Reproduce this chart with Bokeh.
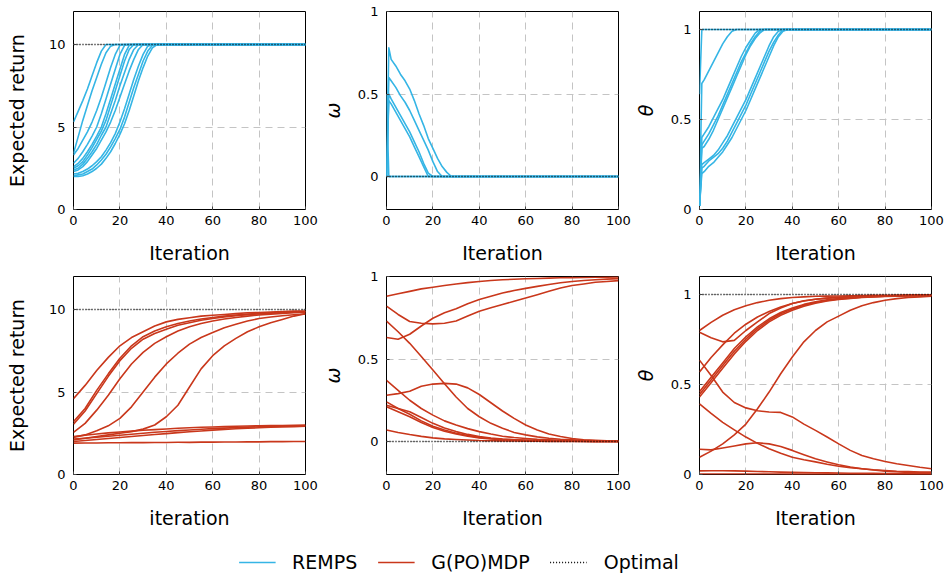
from bokeh.plotting import figure
from bokeh.layouts import column, row
from bokeh.models import Range1d, FixedTicker, Legend, LegendItem
from bokeh.embed import file_html
from bokeh.resources import INLINE

BLUE = "#35B5E5"
RED = "#C9371B"
FONT = "DejaVu Sans"

# ---------------- data ----------------
X_TICKS = [0, 20, 40, 60, 80, 100]
RET_TICKS = [0, 5, 10]
UNIT_TICKS = [0, 0.5, 1]
UNIT_LABELS = {0: "0", 0.5: "0.5", 1: "1"}

OPT_ITER = [0, 100]
OPT_RETURN = [10, 10]
OPT_OMEGA = [0, 0]
OPT_THETA = [1, 1]

# REMPS - expected return
REMPS_RET_ITER = [0, 2, 4, 6, 8, 10, 12, 14, 16, 18, 20, 22, 24, 26, 28, 30, 32, 34, 36, 100]
REMPS_RETURN = [
    [5.3, 5.95, 6.6, 7.3, 8.1, 8.9, 9.6, 10, 10, 10, 10, 10, 10, 10, 10, 10, 10, 10, 10, 10],
    [3.4, 4.4, 5.4, 6.3, 7.2, 8.0, 8.8, 9.5, 9.9, 10, 10, 10, 10, 10, 10, 10, 10, 10, 10, 10],
    [3.3, 3.7, 4.2, 4.7, 5.3, 6.0, 6.8, 7.7, 8.6, 9.4, 9.95, 10, 10, 10, 10, 10, 10, 10, 10, 10],
    [2.8, 3.1, 3.5, 3.95, 4.45, 5.0, 5.8, 6.7, 7.6, 8.5, 9.4, 9.95, 10, 10, 10, 10, 10, 10, 10, 10],
    [2.6, 2.8, 3.1, 3.5, 3.95, 4.45, 5.0, 5.8, 6.7, 7.6, 8.5, 9.4, 9.95, 10, 10, 10, 10, 10, 10, 10],
    [2.5, 2.65, 2.9, 3.3, 3.75, 4.25, 4.75, 5.4, 6.3, 7.2, 8.1, 9.0, 9.7, 10, 10, 10, 10, 10, 10, 10],
    [2.4, 2.5, 2.75, 3.1, 3.5, 3.95, 4.5, 5.0, 5.8, 6.6, 7.5, 8.3, 9.1, 9.7, 10, 10, 10, 10, 10, 10],
    [2.3, 2.4, 2.6, 2.9, 3.3, 3.7, 4.2, 4.7, 5.3, 6.0, 6.8, 7.6, 8.4, 9.1, 9.7, 10, 10, 10, 10, 10],
    [2.15, 2.2, 2.3, 2.45, 2.65, 2.9, 3.2, 3.6, 4.05, 4.6, 5.3, 6.1, 7.0, 7.9, 8.7, 9.4, 9.9, 10, 10, 10],
    [2.05, 2.1, 2.15, 2.3, 2.45, 2.7, 3.0, 3.35, 3.8, 4.3, 4.85, 5.6, 6.5, 7.4, 8.2, 9.0, 9.6, 9.95, 10, 10],
    [2.0, 2.0, 2.05, 2.15, 2.3, 2.5, 2.75, 3.1, 3.5, 4.0, 4.55, 5.2, 6.0, 6.9, 7.8, 8.6, 9.3, 9.8, 10, 10],
]

# REMPS - omega
REMPS_OMEGA_ITER = [0, 1, 2, 4, 6, 8, 10, 12, 14, 16, 18, 20, 22, 24, 26, 28, 100]
REMPS_OMEGA = [
    [0.0, 0.78, 0.71, 0.67, 0.62, 0.58, 0.53, 0.46, 0.38, 0.31, 0.23, 0.17, 0.11, 0.06, 0.025, 0.0, 0.0],
    [0.0, 0.60, 0.58, 0.54, 0.49, 0.45, 0.40, 0.34, 0.28, 0.22, 0.16, 0.09, 0.03, 0.0, 0.0, 0.0, 0.0],
    [0.0, 0.50, 0.47, 0.42, 0.37, 0.32, 0.27, 0.21, 0.15, 0.08, 0.02, 0.0, 0.0, 0.0, 0.0, 0.0, 0.0],
    [0.0, 0.46, 0.44, 0.39, 0.34, 0.29, 0.24, 0.18, 0.12, 0.06, 0.0, 0.0, 0.0, 0.0, 0.0, 0.0, 0.0],
    [0.5, 0.0, 0.0, 0.0, 0.0, 0.0, 0.0, 0.0, 0.0, 0.0, 0.0, 0.0, 0.0, 0.0, 0.0, 0.0, 0.0],
    [0.0, 0.0, 0.0, 0.0, 0.0, 0.0, 0.0, 0.0, 0.0, 0.0, 0.0, 0.0, 0.0, 0.0, 0.0, 0.0, 0.0],
]

# REMPS - theta
REMPS_THETA_ITER = [0, 1, 2, 4, 6, 8, 10, 12, 14, 16, 18, 20, 22, 24, 26, 28, 30, 32, 34, 36, 38, 100]
REMPS_THETA = [
    [0.64, 1.0, 1.0, 1.0, 1.0, 1.0, 1.0, 1.0, 1.0, 1.0, 1.0, 1.0, 1.0, 1.0, 1.0, 1.0, 1.0, 1.0, 1.0, 1.0, 1.0, 1.0],
    [0.02, 0.70, 0.72, 0.77, 0.82, 0.87, 0.92, 0.96, 0.99, 1.0, 1.0, 1.0, 1.0, 1.0, 1.0, 1.0, 1.0, 1.0, 1.0, 1.0, 1.0, 1.0],
    [0.02, 0.40, 0.42, 0.46, 0.51, 0.56, 0.61, 0.67, 0.73, 0.79, 0.85, 0.90, 0.94, 0.98, 1.0, 1.0, 1.0, 1.0, 1.0, 1.0, 1.0, 1.0],
    [0.02, 0.36, 0.38, 0.42, 0.47, 0.52, 0.58, 0.64, 0.70, 0.76, 0.82, 0.87, 0.92, 0.96, 0.99, 1.0, 1.0, 1.0, 1.0, 1.0, 1.0, 1.0],
    [0.02, 0.34, 0.35, 0.39, 0.44, 0.50, 0.56, 0.62, 0.68, 0.74, 0.80, 0.86, 0.91, 0.95, 0.98, 1.0, 1.0, 1.0, 1.0, 1.0, 1.0, 1.0],
    [0.02, 0.25, 0.26, 0.28, 0.30, 0.33, 0.37, 0.41, 0.46, 0.51, 0.56, 0.61, 0.67, 0.73, 0.79, 0.85, 0.91, 0.96, 0.99, 1.0, 1.0, 1.0],
    [0.02, 0.23, 0.24, 0.27, 0.29, 0.31, 0.34, 0.38, 0.43, 0.48, 0.53, 0.58, 0.64, 0.70, 0.76, 0.82, 0.88, 0.93, 0.97, 1.0, 1.0, 1.0],
    [0.02, 0.20, 0.21, 0.24, 0.26, 0.29, 0.32, 0.36, 0.40, 0.45, 0.50, 0.55, 0.61, 0.67, 0.73, 0.79, 0.85, 0.91, 0.96, 0.99, 1.0, 1.0],
]

# G(PO)MDP
GPOMDP_ITER = [0, 5, 10, 15, 20, 25, 30, 35, 40, 45, 50, 55, 60, 65, 70, 75, 80, 85, 90, 95, 100]
GPOMDP_RETURN = [
    [4.6, 5.4, 6.3, 7.1, 7.8, 8.3, 8.65, 9.0, 9.25, 9.4, 9.5, 9.6, 9.65, 9.7, 9.75, 9.8, 9.82, 9.85, 9.87, 9.9, 9.9],
    [3.2, 4.0, 5.1, 6.1, 7.05, 7.8, 8.35, 8.7, 8.95, 9.15, 9.3, 9.42, 9.52, 9.6, 9.66, 9.72, 9.76, 9.8, 9.83, 9.86, 9.88],
    [3.05, 3.85, 4.9, 5.95, 6.9, 7.65, 8.2, 8.55, 8.8, 9.05, 9.2, 9.35, 9.45, 9.55, 9.62, 9.68, 9.73, 9.77, 9.8, 9.83, 9.86],
    [2.55, 3.1, 3.9, 4.8, 5.8, 6.7, 7.4, 7.95, 8.35, 8.7, 8.95, 9.15, 9.3, 9.42, 9.52, 9.6, 9.67, 9.72, 9.76, 9.8, 9.83],
    [2.25, 2.4, 2.65, 2.95, 3.4, 4.1, 5.0, 5.9, 6.7, 7.35, 7.9, 8.3, 8.6, 8.9, 9.1, 9.3, 9.45, 9.55, 9.62, 9.68, 9.73],
    [2.1, 2.2, 2.3, 2.4, 2.5, 2.6, 2.75, 3.0, 3.5, 4.2, 5.3, 6.4, 7.2, 7.8, 8.25, 8.65, 8.95, 9.2, 9.4, 9.6, 9.75],
    [2.3, 2.38, 2.45, 2.52, 2.58, 2.63, 2.68, 2.72, 2.76, 2.8, 2.83, 2.86, 2.88, 2.9, 2.92, 2.94, 2.95, 2.96, 2.97, 2.98, 3.0],
    [2.15, 2.2, 2.26, 2.32, 2.38, 2.44, 2.5, 2.56, 2.61, 2.66, 2.7, 2.74, 2.78, 2.81, 2.84, 2.87, 2.89, 2.91, 2.93, 2.94, 2.95],
    [2.0, 2.06, 2.12, 2.18, 2.24, 2.3, 2.36, 2.42, 2.48, 2.54, 2.59, 2.64, 2.69, 2.73, 2.77, 2.8, 2.83, 2.86, 2.88, 2.9, 2.92],
    [1.9, 1.91, 1.91, 1.92, 1.92, 1.93, 1.93, 1.94, 1.94, 1.95, 1.95, 1.96, 1.96, 1.97, 1.97, 1.98, 1.98, 1.99, 1.99, 2.0, 2.0],
]
GPOMDP_OMEGA = [
    [0.88, 0.895, 0.91, 0.925, 0.935, 0.945, 0.955, 0.963, 0.97, 0.976, 0.98, 0.983, 0.986, 0.988, 0.99, 0.992, 0.993, 0.994, 0.995, 0.996, 0.997],
    [0.82, 0.77, 0.727, 0.717, 0.713, 0.717, 0.73, 0.76, 0.79, 0.81, 0.83, 0.85, 0.87, 0.89, 0.91, 0.93, 0.945, 0.955, 0.965, 0.97, 0.975],
    [0.63, 0.62, 0.65, 0.70, 0.747, 0.78, 0.805, 0.835, 0.86, 0.88, 0.9, 0.915, 0.928, 0.94, 0.952, 0.962, 0.97, 0.976, 0.98, 0.984, 0.987],
    [0.73, 0.665, 0.595, 0.515, 0.433, 0.35, 0.27, 0.2, 0.15, 0.11, 0.08, 0.055, 0.04, 0.028, 0.02, 0.014, 0.01, 0.007, 0.005, 0.003, 0.002],
    [0.28, 0.29, 0.305, 0.335, 0.348, 0.352, 0.348, 0.325, 0.285, 0.235, 0.185, 0.14, 0.1, 0.07, 0.045, 0.03, 0.018, 0.011, 0.007, 0.004, 0.003],
    [0.37, 0.31, 0.25, 0.2, 0.16, 0.125, 0.1, 0.078, 0.06, 0.045, 0.032, 0.024, 0.018, 0.013, 0.01, 0.007, 0.005, 0.004, 0.003, 0.002, 0.001],
    [0.24, 0.2, 0.165, 0.125, 0.093, 0.07, 0.05, 0.036, 0.025, 0.018, 0.013, 0.01, 0.008, 0.006, 0.004, 0.003, 0.002, 0.002, 0.001, 0.001, 0.0],
    [0.22, 0.2, 0.18, 0.145, 0.11, 0.082, 0.06, 0.043, 0.03, 0.021, 0.015, 0.011, 0.008, 0.006, 0.004, 0.003, 0.002, 0.002, 0.001, 0.001, 0.0],
    [0.21, 0.18, 0.15, 0.115, 0.085, 0.062, 0.045, 0.032, 0.022, 0.015, 0.011, 0.008, 0.006, 0.004, 0.003, 0.002, 0.002, 0.001, 0.001, 0.0, 0.0],
    [0.07, 0.055, 0.042, 0.031, 0.022, 0.016, 0.012, 0.009, 0.006, 0.005, 0.004, 0.003, 0.002, 0.002, 0.001, 0.001, 0.001, 0.0, 0.0, 0.0, 0.0],
]
GPOMDP_THETA = [
    [0.80, 0.845, 0.885, 0.915, 0.937, 0.955, 0.968, 0.977, 0.983, 0.987, 0.99, 0.991, 0.992, 0.993, 0.994, 0.995, 0.995, 0.996, 0.996, 0.997, 0.997],
    [0.79, 0.76, 0.737, 0.745, 0.80, 0.848, 0.894, 0.925, 0.95, 0.965, 0.974, 0.98, 0.985, 0.988, 0.99, 0.992, 0.993, 0.994, 0.995, 0.996, 0.996],
    [0.57, 0.65, 0.72, 0.785, 0.835, 0.875, 0.905, 0.93, 0.95, 0.964, 0.974, 0.98, 0.985, 0.988, 0.99, 0.992, 0.993, 0.994, 0.995, 0.995, 0.996],
    [0.46, 0.54, 0.62, 0.70, 0.765, 0.82, 0.865, 0.9, 0.925, 0.945, 0.96, 0.97, 0.977, 0.982, 0.986, 0.989, 0.991, 0.993, 0.994, 0.995, 0.995],
    [0.445, 0.525, 0.605, 0.685, 0.752, 0.81, 0.857, 0.893, 0.92, 0.94, 0.956, 0.967, 0.975, 0.98, 0.985, 0.988, 0.99, 0.992, 0.993, 0.994, 0.995],
    [0.43, 0.51, 0.59, 0.67, 0.74, 0.8, 0.848, 0.885, 0.913, 0.935, 0.952, 0.964, 0.972, 0.978, 0.983, 0.987, 0.989, 0.991, 0.993, 0.994, 0.995],
    [0.096, 0.13, 0.17, 0.22, 0.28, 0.365, 0.458, 0.56, 0.653, 0.737, 0.8, 0.848, 0.88, 0.912, 0.937, 0.955, 0.968, 0.977, 0.983, 0.987, 0.99],
    [0.635, 0.55, 0.458, 0.4, 0.37, 0.354, 0.347, 0.345, 0.32, 0.28, 0.245, 0.208, 0.17, 0.134, 0.106, 0.087, 0.072, 0.06, 0.05, 0.04, 0.032],
    [0.393, 0.34, 0.29, 0.248, 0.208, 0.173, 0.143, 0.118, 0.096, 0.082, 0.07, 0.057, 0.046, 0.038, 0.032, 0.026, 0.022, 0.018, 0.016, 0.014, 0.013],
    [0.14, 0.137, 0.147, 0.158, 0.17, 0.176, 0.17, 0.156, 0.134, 0.11, 0.087, 0.07, 0.054, 0.042, 0.032, 0.025, 0.019, 0.015, 0.012, 0.011, 0.01],
    [0.02, 0.021, 0.021, 0.02, 0.019, 0.017, 0.015, 0.013, 0.012, 0.011, 0.01, 0.009, 0.008, 0.007, 0.006, 0.006, 0.005, 0.005, 0.004, 0.004, 0.004],
    [0.003, 0.003, 0.003, 0.003, 0.003, 0.003, 0.003, 0.003, 0.002, 0.002, 0.002, 0.002, 0.002, 0.002, 0.002, 0.002, 0.002, 0.002, 0.002, 0.002, 0.002],
]

# legend entries (dummy points kept outside the legend strip's visible range)
LEGEND_LABELS = ["REMPS", "G(PO)MDP", "Optimal"]
HIDDEN_X = [-10, -9]
HIDDEN_Y = [-10, -9]


def panel(xs, curves, color, opt, yr, yticks, ylabel, xlabel, italic,
          left, right, top, bottom, lab_standoff):
    p = figure(frame_width=232, frame_height=198,
               x_range=Range1d(0, 100), y_range=Range1d(*yr),
               output_backend="svg", toolbar_location=None,
               min_border_left=left, min_border_right=right,
               min_border_top=top, min_border_bottom=bottom,
               background_fill_color="white", border_fill_color="white")
    p.outline_line_color = "black"
    p.outline_line_width = 1
    p.outline_line_alpha = 1

    p.xaxis.ticker = FixedTicker(ticks=X_TICKS)
    p.yaxis.ticker = FixedTicker(ticks=yticks)
    if yticks == UNIT_TICKS:
        p.yaxis.major_label_overrides = UNIT_LABELS
    for ax in (p.xaxis[0], p.yaxis[0]):
        ax.axis_line_color = None
        ax.major_tick_in = 3
        ax.major_tick_out = 0
        ax.major_tick_line_color = "#444444"
        ax.minor_tick_line_color = None
        ax.major_label_text_font = FONT
        ax.major_label_text_font_size = "13px"
        ax.major_label_text_color = "black"
        ax.axis_label_text_font = FONT
        ax.axis_label_text_font_size = "19px"
        ax.axis_label_text_color = "black"
        ax.axis_label_text_font_style = "normal"
    p.xaxis.axis_label = xlabel
    p.xaxis.major_label_standoff = 6
    p.xaxis.axis_label_standoff = 14
    p.yaxis.axis_label = ylabel
    p.yaxis.major_label_standoff = 8
    p.yaxis.axis_label_standoff = lab_standoff
    if italic:
        p.yaxis.axis_label_text_font_style = "italic"

    for g in (p.xgrid[0], p.ygrid[0]):
        g.grid_line_color = "#c4c4c4"
        g.grid_line_dash = "7 5"
        g.grid_line_width = 1

    for ys in curves:
        p.line(xs, ys, line_color=color, line_width=1.6, line_join="round")
    p.line(OPT_ITER, opt, line_color="black", line_width=1.6, line_dash="1 2")
    return p


p1 = panel(REMPS_RET_ITER, REMPS_RETURN, BLUE, OPT_RETURN, (0, 12), RET_TICKS,
           "Expected return", "Iteration", False, 73, 13, 11, 58, 18)
p2 = panel(REMPS_OMEGA_ITER, REMPS_OMEGA, BLUE, OPT_OMEGA, (-0.2, 1), UNIT_TICKS,
           "ω", "Iteration", True, 68, 13, 11, 58, 11)
p3 = panel(REMPS_THETA_ITER, REMPS_THETA, BLUE, OPT_THETA, (0, 1.1), UNIT_TICKS,
           "θ", "Iteration", True, 68, 20, 11, 58, 11)
p4 = panel(GPOMDP_ITER, GPOMDP_RETURN, RED, OPT_RETURN, (0, 12), RET_TICKS,
           "Expected return", "iteration", False, 73, 13, 9, 58, 18)
p5 = panel(GPOMDP_ITER, GPOMDP_OMEGA, RED, OPT_OMEGA, (-0.2, 1), UNIT_TICKS,
           "ω", "Iteration", True, 68, 13, 9, 58, 11)
p6 = panel(GPOMDP_ITER, GPOMDP_THETA, RED, OPT_THETA, (0, 1.1), UNIT_TICKS,
           "θ", "Iteration", True, 68, 20, 9, 58, 11)

# legend strip
lf = figure(width=951, height=44, x_range=Range1d(0, 1), y_range=Range1d(0, 1),
            output_backend="svg", toolbar_location=None,
            min_border_left=0, min_border_right=34, min_border_top=16, min_border_bottom=0,
            background_fill_color="white", border_fill_color="white")
lf.axis.visible = False
lf.grid.visible = False
lf.outline_line_color = None
r_b = lf.line(HIDDEN_X, HIDDEN_Y, line_color=BLUE, line_width=1.6)
r_r = lf.line(HIDDEN_X, HIDDEN_Y, line_color=RED, line_width=1.6)
r_o = lf.line(HIDDEN_X, HIDDEN_Y, line_color="black", line_width=1.4, line_dash="1 2")
leg = Legend(items=[LegendItem(label=LEGEND_LABELS[0], renderers=[r_b]),
                    LegendItem(label=LEGEND_LABELS[1], renderers=[r_r]),
                    LegendItem(label=LEGEND_LABELS[2], renderers=[r_o])],
             orientation="horizontal", location="center",
             glyph_width=37, glyph_height=20, label_standoff=17, spacing=20,
             padding=0, margin=0, border_line_color=None, background_fill_alpha=0,
             label_text_font=FONT, label_text_font_size="19px", label_text_color="black")
lf.add_layout(leg, "center")

layout = column(row(p1, p2, p3), row(p4, p5, p6), lf)

open("out.html", "w").write(file_html(layout, INLINE))
